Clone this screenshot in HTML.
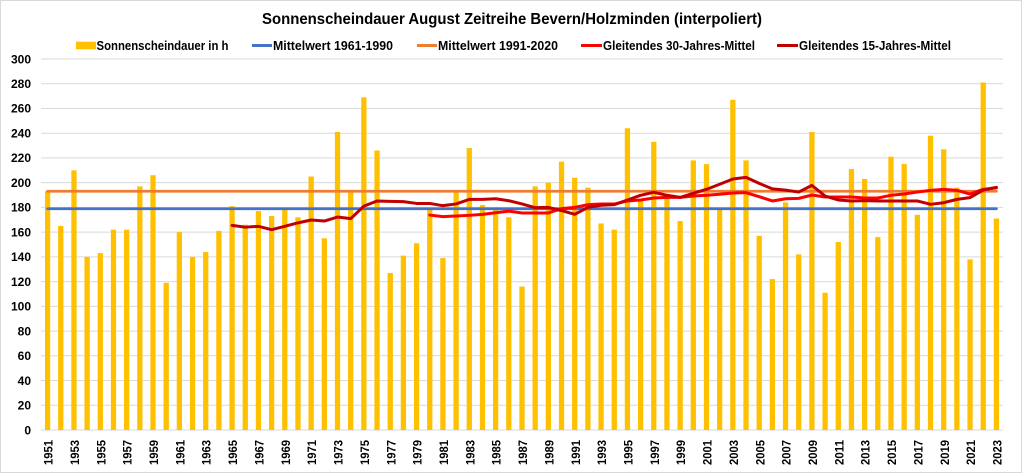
<!DOCTYPE html>
<html><head><meta charset="utf-8"><style>
html,body{margin:0;padding:0;background:#fff;}
svg{display:block;}
text{font-family:"Liberation Sans",sans-serif;font-weight:bold;fill:#000;}
</style></head><body>
<svg width="1024" height="473" viewBox="0 0 1024 473" xmlns="http://www.w3.org/2000/svg">
<rect x="0" y="0" width="1024" height="473" fill="#fff"/>
<rect x="0.5" y="0.5" width="1021" height="472" fill="none" stroke="#d9d9d9" stroke-width="1"/>
<text x="512" y="24" font-size="16" text-anchor="middle" textLength="500" lengthAdjust="spacingAndGlyphs">Sonnenscheindauer August Zeitreihe Bevern/Holzminden (interpoliert)</text>
<!-- legend -->
<rect x="76" y="41.7" width="20" height="7.6" fill="#FFC000"/>
<text x="96.5" y="50" font-size="12.5" textLength="132" lengthAdjust="spacingAndGlyphs">Sonnenscheindauer in h</text>
<line x1="252" y1="45.5" x2="272" y2="45.5" stroke="#4472C4" stroke-width="3"/>
<text x="273" y="50" font-size="12.5" textLength="120" lengthAdjust="spacingAndGlyphs">Mittelwert 1961-1990</text>
<line x1="417" y1="45.5" x2="437" y2="45.5" stroke="#ED7D31" stroke-width="3"/>
<text x="438" y="50" font-size="12.5" textLength="120" lengthAdjust="spacingAndGlyphs">Mittelwert 1991-2020</text>
<line x1="581" y1="45.5" x2="602" y2="45.5" stroke="#FF0000" stroke-width="3"/>
<text x="603" y="50" font-size="12.5" textLength="152" lengthAdjust="spacingAndGlyphs">Gleitendes 30-Jahres-Mittel</text>
<line x1="777" y1="45.5" x2="798" y2="45.5" stroke="#C00000" stroke-width="3"/>
<text x="799" y="50" font-size="12.5" textLength="152" lengthAdjust="spacingAndGlyphs">Gleitendes 15-Jahres-Mittel</text>
<!-- y labels -->
<g font-size="12" text-anchor="end">
<text x="31" y="434.3">0</text>
<text x="31" y="409.6">20</text>
<text x="31" y="384.8">40</text>
<text x="31" y="360.1">60</text>
<text x="31" y="335.4">80</text>
<text x="31" y="310.6">100</text>
<text x="31" y="285.9">120</text>
<text x="31" y="261.1">140</text>
<text x="31" y="236.4">160</text>
<text x="31" y="211.7">180</text>
<text x="31" y="186.9">200</text>
<text x="31" y="162.2">220</text>
<text x="31" y="137.5">240</text>
<text x="31" y="112.7">260</text>
<text x="31" y="88.0">280</text>
<text x="31" y="63.3">300</text>
</g>
<!-- data group -->
<g transform="translate(41,430) scale(13.178,-1.23667)">
<g stroke="#d9d9d9" stroke-width="1" vector-effect="non-scaling-stroke" fill="none">
<path vector-effect="non-scaling-stroke" d="M0 0H73M0 20H73M0 40H73M0 60H73M0 80H73M0 100H73M0 120H73M0 140H73M0 160H73M0 180H73M0 200H73M0 220H73M0 240H73M0 260H73M0 280H73M0 300H73"/>
</g>
<g fill="#FFC000">
<rect x="0.3" y="0" width="0.4" height="193"/>
<rect x="1.3" y="0" width="0.4" height="165"/>
<rect x="2.3" y="0" width="0.4" height="210"/>
<rect x="3.3" y="0" width="0.4" height="140"/>
<rect x="4.3" y="0" width="0.4" height="143"/>
<rect x="5.3" y="0" width="0.4" height="162"/>
<rect x="6.3" y="0" width="0.4" height="162"/>
<rect x="7.3" y="0" width="0.4" height="197"/>
<rect x="8.3" y="0" width="0.4" height="206"/>
<rect x="9.3" y="0" width="0.4" height="119"/>
<rect x="10.3" y="0" width="0.4" height="160"/>
<rect x="11.3" y="0" width="0.4" height="140"/>
<rect x="12.3" y="0" width="0.4" height="144"/>
<rect x="13.3" y="0" width="0.4" height="161"/>
<rect x="14.3" y="0" width="0.4" height="181"/>
<rect x="15.3" y="0" width="0.4" height="166"/>
<rect x="16.3" y="0" width="0.4" height="177"/>
<rect x="17.3" y="0" width="0.4" height="173"/>
<rect x="18.3" y="0" width="0.4" height="178"/>
<rect x="19.3" y="0" width="0.4" height="172"/>
<rect x="20.3" y="0" width="0.4" height="205"/>
<rect x="21.3" y="0" width="0.4" height="155"/>
<rect x="22.3" y="0" width="0.4" height="241"/>
<rect x="23.3" y="0" width="0.4" height="192"/>
<rect x="24.3" y="0" width="0.4" height="269"/>
<rect x="25.3" y="0" width="0.4" height="226"/>
<rect x="26.3" y="0" width="0.4" height="127"/>
<rect x="27.3" y="0" width="0.4" height="141"/>
<rect x="28.3" y="0" width="0.4" height="151"/>
<rect x="29.3" y="0" width="0.4" height="178"/>
<rect x="30.3" y="0" width="0.4" height="139"/>
<rect x="31.3" y="0" width="0.4" height="192"/>
<rect x="32.3" y="0" width="0.4" height="228"/>
<rect x="33.3" y="0" width="0.4" height="182"/>
<rect x="34.3" y="0" width="0.4" height="178"/>
<rect x="35.3" y="0" width="0.4" height="172"/>
<rect x="36.3" y="0" width="0.4" height="116"/>
<rect x="37.3" y="0" width="0.4" height="197"/>
<rect x="38.3" y="0" width="0.4" height="200"/>
<rect x="39.3" y="0" width="0.4" height="217"/>
<rect x="40.3" y="0" width="0.4" height="204"/>
<rect x="41.3" y="0" width="0.4" height="196"/>
<rect x="42.3" y="0" width="0.4" height="167"/>
<rect x="43.3" y="0" width="0.4" height="162"/>
<rect x="44.3" y="0" width="0.4" height="244"/>
<rect x="45.3" y="0" width="0.4" height="185"/>
<rect x="46.3" y="0" width="0.4" height="233"/>
<rect x="47.3" y="0" width="0.4" height="188"/>
<rect x="48.3" y="0" width="0.4" height="169"/>
<rect x="49.3" y="0" width="0.4" height="218"/>
<rect x="50.3" y="0" width="0.4" height="215"/>
<rect x="51.3" y="0" width="0.4" height="178"/>
<rect x="52.3" y="0" width="0.4" height="267"/>
<rect x="53.3" y="0" width="0.4" height="218"/>
<rect x="54.3" y="0" width="0.4" height="157"/>
<rect x="55.3" y="0" width="0.4" height="122"/>
<rect x="56.3" y="0" width="0.4" height="184"/>
<rect x="57.3" y="0" width="0.4" height="142"/>
<rect x="58.3" y="0" width="0.4" height="241"/>
<rect x="59.3" y="0" width="0.4" height="111"/>
<rect x="60.3" y="0" width="0.4" height="152"/>
<rect x="61.3" y="0" width="0.4" height="211"/>
<rect x="62.3" y="0" width="0.4" height="203"/>
<rect x="63.3" y="0" width="0.4" height="156"/>
<rect x="64.3" y="0" width="0.4" height="221"/>
<rect x="65.3" y="0" width="0.4" height="215"/>
<rect x="66.3" y="0" width="0.4" height="174"/>
<rect x="67.3" y="0" width="0.4" height="238"/>
<rect x="68.3" y="0" width="0.4" height="227"/>
<rect x="69.3" y="0" width="0.4" height="196"/>
<rect x="70.3" y="0" width="0.4" height="138"/>
<rect x="71.3" y="0" width="0.4" height="281"/>
<rect x="72.3" y="0" width="0.4" height="171"/>
</g>
<g fill="none" stroke-linejoin="round" stroke-linecap="round">
<path vector-effect="non-scaling-stroke" d="M0.5 178.9H72.5" stroke="#4472C4" stroke-width="2.75"/>
<path vector-effect="non-scaling-stroke" d="M0.5 193.1H72.5" stroke="#ED7D31" stroke-width="2.75"/>
<polyline vector-effect="non-scaling-stroke" stroke="#FF0000" stroke-width="3" points="29.5,173.8 30.5,172.5 31.5,173 32.5,173.6 33.5,174.4 34.5,175.7 35.5,177 36.5,175.5 37.5,175.5 38.5,175.5 39.5,179 40.5,180 41.5,182.2 42.5,182.7 43.5,182.7 44.5,185.2 45.5,186 46.5,187.6 47.5,188.1 48.5,188.1 49.5,189.2 50.5,189.8 51.5,190.6 52.5,191.6 53.5,191.9 54.5,188.7 55.5,185.2 56.5,187 57.5,187.3 58.5,190 59.5,188.4 60.5,188.4 61.5,188.4 62.5,187.6 63.5,187.6 64.5,189.8 65.5,190.8 66.5,192.4 67.5,193.8 68.5,194.6 69.5,193.8 70.5,190.8 71.5,194.6 72.5,195.9"/>
<polyline vector-effect="non-scaling-stroke" stroke="#C00000" stroke-width="3" points="14.5,165.5 15.5,164 16.5,164.7 17.5,162 18.5,164.7 19.5,167.5 20.5,169.8 21.5,169 22.5,172.2 23.5,170.9 24.5,181 25.5,185.2 26.5,184.9 27.5,184.7 28.5,183.2 29.5,183.2 30.5,181.4 31.5,182.8 32.5,186.5 33.5,186.5 34.5,187 35.5,185.4 36.5,182.8 37.5,179.8 38.5,180 39.5,177.4 40.5,174.4 41.5,180 42.5,181.7 43.5,182.2 44.5,186 45.5,189.8 46.5,192.2 47.5,189.8 48.5,188.1 49.5,191.4 50.5,194.6 51.5,198.7 52.5,203 53.5,204.3 54.5,199.4 55.5,195 56.5,194 57.5,192.4 58.5,197.8 59.5,189.2 60.5,186 61.5,185.2 62.5,185.5 63.5,185.2 64.5,185.2 65.5,185.2 66.5,185.2 67.5,182.5 68.5,183.8 69.5,186.5 70.5,187.9 71.5,194 72.5,196.2"/>
</g>
</g>
<!-- x labels -->
<g font-size="12" text-anchor="end">
<text transform="translate(52.6,440) rotate(-90)" textLength="25" lengthAdjust="spacingAndGlyphs">1951</text>
<text transform="translate(79.0,440) rotate(-90)" textLength="25" lengthAdjust="spacingAndGlyphs">1953</text>
<text transform="translate(105.3,440) rotate(-90)" textLength="25" lengthAdjust="spacingAndGlyphs">1955</text>
<text transform="translate(131.7,440) rotate(-90)" textLength="25" lengthAdjust="spacingAndGlyphs">1957</text>
<text transform="translate(158.0,440) rotate(-90)" textLength="25" lengthAdjust="spacingAndGlyphs">1959</text>
<text transform="translate(184.4,440) rotate(-90)" textLength="25" lengthAdjust="spacingAndGlyphs">1961</text>
<text transform="translate(210.7,440) rotate(-90)" textLength="25" lengthAdjust="spacingAndGlyphs">1963</text>
<text transform="translate(237.1,440) rotate(-90)" textLength="25" lengthAdjust="spacingAndGlyphs">1965</text>
<text transform="translate(263.5,440) rotate(-90)" textLength="25" lengthAdjust="spacingAndGlyphs">1967</text>
<text transform="translate(289.8,440) rotate(-90)" textLength="25" lengthAdjust="spacingAndGlyphs">1969</text>
<text transform="translate(316.2,440) rotate(-90)" textLength="25" lengthAdjust="spacingAndGlyphs">1971</text>
<text transform="translate(342.5,440) rotate(-90)" textLength="25" lengthAdjust="spacingAndGlyphs">1973</text>
<text transform="translate(368.9,440) rotate(-90)" textLength="25" lengthAdjust="spacingAndGlyphs">1975</text>
<text transform="translate(395.3,440) rotate(-90)" textLength="25" lengthAdjust="spacingAndGlyphs">1977</text>
<text transform="translate(421.6,440) rotate(-90)" textLength="25" lengthAdjust="spacingAndGlyphs">1979</text>
<text transform="translate(448.0,440) rotate(-90)" textLength="25" lengthAdjust="spacingAndGlyphs">1981</text>
<text transform="translate(474.3,440) rotate(-90)" textLength="25" lengthAdjust="spacingAndGlyphs">1983</text>
<text transform="translate(500.7,440) rotate(-90)" textLength="25" lengthAdjust="spacingAndGlyphs">1985</text>
<text transform="translate(527.1,440) rotate(-90)" textLength="25" lengthAdjust="spacingAndGlyphs">1987</text>
<text transform="translate(553.4,440) rotate(-90)" textLength="25" lengthAdjust="spacingAndGlyphs">1989</text>
<text transform="translate(579.8,440) rotate(-90)" textLength="25" lengthAdjust="spacingAndGlyphs">1991</text>
<text transform="translate(606.1,440) rotate(-90)" textLength="25" lengthAdjust="spacingAndGlyphs">1993</text>
<text transform="translate(632.5,440) rotate(-90)" textLength="25" lengthAdjust="spacingAndGlyphs">1995</text>
<text transform="translate(658.9,440) rotate(-90)" textLength="25" lengthAdjust="spacingAndGlyphs">1997</text>
<text transform="translate(685.2,440) rotate(-90)" textLength="25" lengthAdjust="spacingAndGlyphs">1999</text>
<text transform="translate(711.6,440) rotate(-90)" textLength="25" lengthAdjust="spacingAndGlyphs">2001</text>
<text transform="translate(737.9,440) rotate(-90)" textLength="25" lengthAdjust="spacingAndGlyphs">2003</text>
<text transform="translate(764.3,440) rotate(-90)" textLength="25" lengthAdjust="spacingAndGlyphs">2005</text>
<text transform="translate(790.7,440) rotate(-90)" textLength="25" lengthAdjust="spacingAndGlyphs">2007</text>
<text transform="translate(817.0,440) rotate(-90)" textLength="25" lengthAdjust="spacingAndGlyphs">2009</text>
<text transform="translate(843.4,440) rotate(-90)" textLength="25" lengthAdjust="spacingAndGlyphs">2011</text>
<text transform="translate(869.7,440) rotate(-90)" textLength="25" lengthAdjust="spacingAndGlyphs">2013</text>
<text transform="translate(896.1,440) rotate(-90)" textLength="25" lengthAdjust="spacingAndGlyphs">2015</text>
<text transform="translate(922.5,440) rotate(-90)" textLength="25" lengthAdjust="spacingAndGlyphs">2017</text>
<text transform="translate(948.8,440) rotate(-90)" textLength="25" lengthAdjust="spacingAndGlyphs">2019</text>
<text transform="translate(975.2,440) rotate(-90)" textLength="25" lengthAdjust="spacingAndGlyphs">2021</text>
<text transform="translate(1001.5,440) rotate(-90)" textLength="25" lengthAdjust="spacingAndGlyphs">2023</text>
</g>
</svg>
</body></html>
